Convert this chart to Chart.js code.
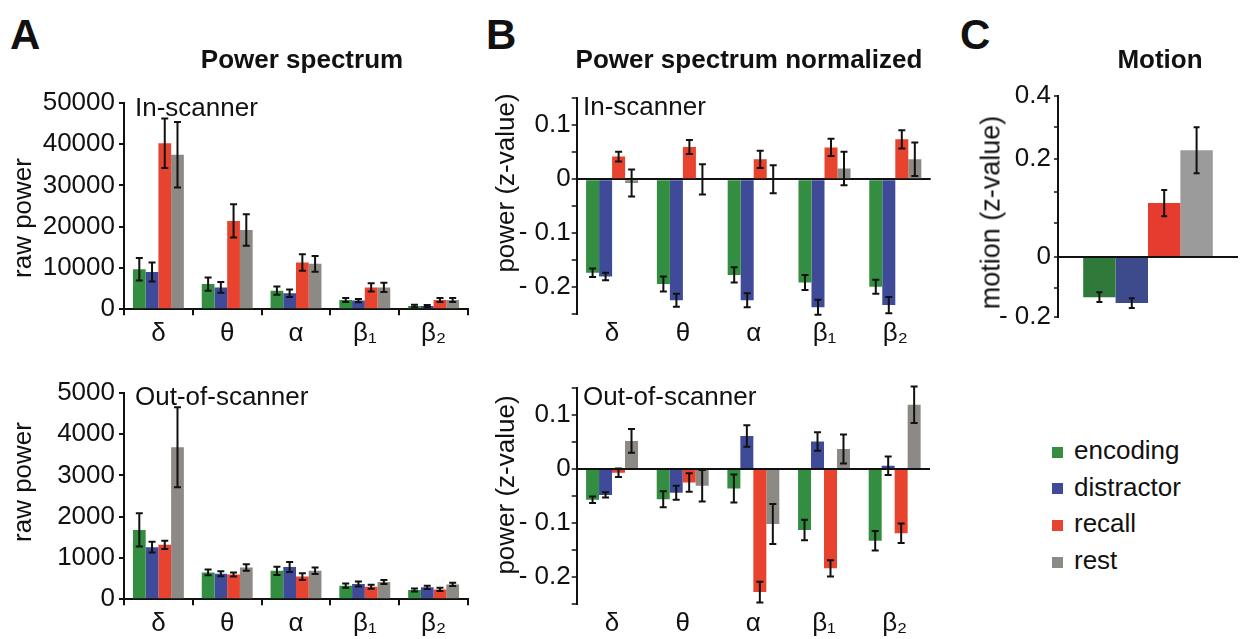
<!DOCTYPE html>
<html>
<head>
<meta charset="utf-8">
<script src="https://cdn.jsdelivr.net/npm/chart.js@4.4.0/dist/chart.umd.min.js"></script>
<style>
  html, body { margin: 0; padding: 0; background: #fff; }
  body { width: 1242px; height: 639px; position: relative; overflow: hidden;
         font-family: "Liberation Sans", Arial, sans-serif; color: #111; }
  canvas { position: absolute; }
  .txt { position: absolute; white-space: nowrap; line-height: 1; }
</style>
</head>
<body>
<canvas id="rawIn"></canvas>
<canvas id="rawOut"></canvas>
<canvas id="normIn"></canvas>
<canvas id="normOut"></canvas>
<canvas id="motion"></canvas>
<script>
// categories
const bands = ['δ', 'θ', 'α', 'β₁', 'β₂'];
const conditions = ['encoding', 'distractor', 'recall', 'rest'];
const seriesColors = ['#338e41', '#3f4b98', '#e8432f', '#8d8985'];
const motionColors = ['#2f7a3b', '#3d4a8c', '#e63c30', '#9b9b9b'];

// A, in-scanner raw power (mean, sem)
const rawInEncoding   = [9700, 6100, 4500, 2250, 800];
const rawInDistractor = [9000, 5300, 3900, 2100, 800];
const rawInRecall     = [40200, 21400, 11300, 5300, 2250];
const rawInRest       = [37400, 19200, 11000, 5300, 2250];
const rawInEncodingErr   = [2700, 1600, 1000, 500, 300];
const rawInDistractorErr = [2300, 1300, 900, 400, 250];
const rawInRecallErr     = [6000, 4000, 2000, 1000, 500];
const rawInRestErr       = [7900, 3800, 1900, 1100, 500];

// A, out-of-scanner raw power
const rawOutEncoding   = [1680, 650, 690, 330, 225];
const rawOutDistractor = [1260, 620, 780, 370, 290];
const rawOutRecall     = [1320, 600, 550, 305, 240];
const rawOutRest       = [3680, 770, 690, 420, 360];
const rawOutEncodingErr   = [400, 70, 100, 50, 35];
const rawOutDistractorErr = [130, 60, 120, 60, 40];
const rawOutRecallErr     = [100, 50, 80, 50, 40];
const rawOutRestErr       = [970, 80, 80, 50, 40];

// B, in-scanner normalized power
const normInEncoding   = [-0.173, -0.194, -0.177, -0.191, -0.199];
const normInDistractor = [-0.180, -0.224, -0.224, -0.237, -0.233];
const normInRecall     = [0.042, 0.060, 0.037, 0.059, 0.074];
const normInRest       = [-0.007, 0.0, 0.0, 0.020, 0.037];
const normInEncodingErr   = [0.008, 0.014, 0.014, 0.014, 0.013];
const normInDistractorErr = [0.007, 0.012, 0.013, 0.014, 0.015];
const normInRecallErr     = [0.009, 0.013, 0.016, 0.016, 0.017];
const normInRestErr       = [0.025, 0.028, 0.026, 0.031, 0.031];

// B, out-of-scanner normalized power
const normOutEncoding   = [-0.057, -0.056, -0.036, -0.113, -0.133];
const normOutDistractor = [-0.048, -0.044, 0.061, 0.051, 0.006];
const normOutRecall     = [-0.007, -0.025, -0.228, -0.184, -0.119];
const normOutRest       = [0.052, -0.031, -0.102, 0.037, 0.119];
const normOutEncodingErr   = [0.006, 0.015, 0.026, 0.019, 0.018];
const normOutDistractorErr = [0.005, 0.013, 0.020, 0.017, 0.017];
const normOutRecallErr     = [0.008, 0.017, 0.019, 0.015, 0.018];
const normOutRestErr       = [0.022, 0.029, 0.037, 0.027, 0.034];

// C, motion
const motionValues = [-0.082, -0.094, 0.110, 0.218];
const motionErrors = [0.010, 0.010, 0.027, 0.047];

// tick labels
const normTickValues = [0.1, 0, -0.1, -0.2];
const normTickLabels = ['0.1', '0', '- 0.1', '- 0.2'];
const motionTicks = [-0.1224, -0.0633, 0, 0.0694, 0.1327, 0.2, 0.2653, 0.3286];
const motionTickLabels = ['- 0.2', '', '0', '', '', '0.2', '', '0.4'];

const FONT = '"Liberation Sans", Arial, sans-serif';
const INK = '#111';
const tickFont = { family: FONT, size: 26 };
const isZero = v => Math.abs(v) < 1e-9;

// whiskers drawn on top of the bars
const errorBars = {
  id: 'errorBars',
  afterDatasetsDraw(chart, args, opts) {
    const ctx = chart.ctx, y = chart.scales.y, c = opts.cap;
    ctx.save();
    ctx.strokeStyle = INK;
    ctx.lineWidth = 2;
    chart.data.datasets.forEach((ds, i) => {
      chart.getDatasetMeta(i).data.forEach((bar, j) => {
        const v = ds.data[j], e = ds.errors[j];
        const y1 = y.getPixelForValue(v + e), y2 = y.getPixelForValue(v - e);
        ctx.beginPath();
        ctx.moveTo(bar.x, y1); ctx.lineTo(bar.x, y2);
        ctx.moveTo(bar.x - c, y1); ctx.lineTo(bar.x + c, y1);
        ctx.moveTo(bar.x - c, y2); ctx.lineTo(bar.x + c, y2);
        ctx.stroke();
      });
    });
    ctx.restore();
  }
};

function makeChart(id, box, area, labels, series, errs, colors, cat, cap, xScale, yScale) {
  const cv = document.getElementById(id);
  cv.width = box.w; cv.height = box.h;
  cv.style.left = box.x + 'px'; cv.style.top = box.y + 'px';
  const yW = area.l - box.x, xH = box.y + box.h - area.b;
  const hasX = xScale.display !== false;
  const x = hasX ? Object.assign({ afterFit: s => { s.height = xH; } }, xScale) : xScale;
  return new Chart(cv, {
    type: 'bar',
    data: {
      labels: labels,
      datasets: series.map((d, i) => ({
        label: conditions[i], data: d, errors: errs[i],
        backgroundColor: colors[i], borderWidth: 0,
        barPercentage: 1, categoryPercentage: cat
      }))
    },
    options: {
      responsive: false, animation: false, devicePixelRatio: 1,
      layout: { padding: { left: 0, top: area.t - box.y, right: box.x + box.w - area.r, bottom: hasX ? 0 : xH } },
      plugins: { legend: { display: false }, tooltip: { enabled: false }, errorBars: { cap: cap } },
      scales: {
        x: x,
        y: Object.assign({ afterFit: s => { s.width = yW; } }, yScale)
      }
    },
    plugins: [errorBars]
  });
}

function rawY(max, step) {
  return {
    min: 0, max: max,
    border: { color: INK, width: 2 },
    grid: { drawOnChartArea: false, color: INK, lineWidth: 2, tickLength: 5 },
    ticks: { stepSize: step, autoSkip: false, font: tickFont, color: INK, padding: 4, callback: v => String(v) }
  };
}
const rawX = {
  border: { color: INK, width: 2 },
  grid: { drawOnChartArea: false, color: INK, lineWidth: 2, tickLength: 6 },
  ticks: { font: tickFont, color: INK, padding: 3, autoSkip: false }
};
const zeroGrid = {
  color: c => isZero(c.tick.value) ? INK : 'rgba(0,0,0,0)',
  lineWidth: 2, tickColor: INK, tickWidth: 1.5, tickLength: 5
};
const normY = {
  min: -0.25, max: 0.15,
  border: { color: INK, width: 2 },
  grid: zeroGrid,
  ticks: {
    stepSize: 0.05, autoSkip: false, font: tickFont, color: INK, padding: 1,
    callback: v => {
      const k = normTickValues.findIndex(t => Math.abs(t - v) < 1e-9);
      return k < 0 ? '' : normTickLabels[k];
    }
  }
};
const normX = {
  border: { display: false },
  grid: { display: false, drawTicks: false },
  ticks: { font: tickFont, color: INK, padding: 4, autoSkip: false }
};

makeChart('rawIn', { x: 30, y: 70, w: 460, h: 290 }, { l: 124, t: 102.7, r: 468, b: 309.3 },
  bands, [rawInEncoding, rawInDistractor, rawInRecall, rawInRest],
  [rawInEncodingErr, rawInDistractorErr, rawInRecallErr, rawInRestErr],
  seriesColors, 0.74, 3.5, rawX, rawY(50000, 10000));

makeChart('rawOut', { x: 30, y: 360, w: 460, h: 279 }, { l: 124, t: 392.7, r: 468, b: 599.3 },
  bands, [rawOutEncoding, rawOutDistractor, rawOutRecall, rawOutRest],
  [rawOutEncodingErr, rawOutDistractorErr, rawOutRecallErr, rawOutRestErr],
  seriesColors, 0.74, 3.5, rawX, rawY(5000, 1000));

makeChart('normIn', { x: 512, y: 70, w: 443, h: 290 }, { l: 576.7, t: 98.3, r: 930.7, b: 314.3 },
  bands, [normInEncoding, normInDistractor, normInRecall, normInRest],
  [normInEncodingErr, normInDistractorErr, normInRecallErr, normInRestErr],
  seriesColors, 0.735, 3.5, normX, normY);

makeChart('normOut', { x: 512, y: 360, w: 443, h: 279 }, { l: 576.7, t: 388, r: 930, b: 604 },
  bands, [normOutEncoding, normOutDistractor, normOutRecall, normOutRest],
  [normOutEncodingErr, normOutDistractorErr, normOutRecallErr, normOutRestErr],
  seriesColors, 0.735, 3.5, normX, normY);

makeChart('motion', { x: 990, y: 70, w: 252, h: 280 }, { l: 1058, t: 96, r: 1238, b: 317 },
  [''], motionValues.map(v => [v]), motionErrors.map(e => [e]),
  motionColors, 0.72, 3, { display: false },
  {
    min: motionTicks[0], max: motionTicks[motionTicks.length - 1],
    afterBuildTicks: s => { s.ticks = motionTicks.map(v => ({ value: v })); },
    border: { color: INK, width: 2 },
    grid: Object.assign({}, zeroGrid, { tickLength: 4 }),
    ticks: { font: tickFont, color: INK, padding: 3, autoSkip: false, callback: (v, i) => motionTickLabels[i] }
  });

// text around the charts
function addText(str, x, baseline, size, bold, center) {
  const d = document.createElement('div');
  d.className = 'txt';
  d.textContent = str;
  d.style.fontSize = size + 'px';
  if (bold) d.style.fontWeight = 'bold';
  d.style.top = (baseline - 0.8465 * size) + 'px';
  d.style.left = x + 'px';
  if (center) d.style.transform = 'translateX(-50%)';
  document.body.appendChild(d);
  return d;
}
function addVText(str, cx, cy, size) {
  const d = document.createElement('div');
  d.className = 'txt';
  d.textContent = str;
  d.style.fontSize = size + 'px';
  d.style.width = '300px';
  d.style.height = size + 'px';
  d.style.textAlign = 'center';
  d.style.left = (cx - 150) + 'px';
  d.style.top = (cy - size / 2) + 'px';
  d.style.transform = 'rotate(-90deg)';
  document.body.appendChild(d);
}

addText('A', 10, 50, 42, true);
addText('B', 486, 50, 42, true);
addText('C', 960, 50, 42, true);
addText('Power spectrum', 302, 68, 26, true, true);
addText('Power spectrum normalized', 749, 68, 26, true, true);
addText('Motion', 1160, 68, 26, true, true);

addText('In-scanner', 135, 116, 26);
addText('Out-of-scanner', 135, 405, 26);
addText('In-scanner', 583, 115, 26);
addText('Out-of-scanner', 583, 405, 26);

addVText('raw power', 22, 218, 26);
addVText('raw power', 22, 482, 26);
addVText('power (z-value)', 505, 183, 26);
addVText('power (z-value)', 505, 485, 26);
addVText('motion (z-value)', 991, 212, 27);

// legend
conditions.forEach((c, i) => {
  const cy = 452 + i * 36.7;
  const sq = document.createElement('div');
  sq.style.cssText = 'position:absolute;width:11px;height:11px;left:1052px;top:' + (cy - 5.5) + 'px;background:' + seriesColors[i];
  document.body.appendChild(sq);
  addText(c, 1074, cy + 7, 26);
});
</script>
</body>
</html>
